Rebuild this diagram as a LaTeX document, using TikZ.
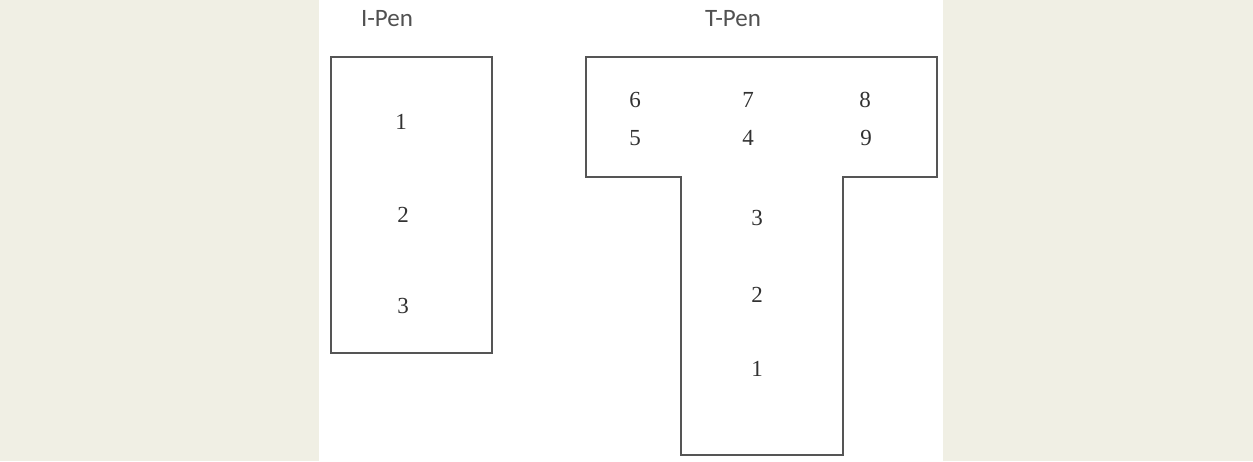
\documentclass[tikz,border=0pt]{standalone}
\usepackage{fontspec}
\setmainfont{Liberation Serif}
\newfontfamily\labelfont{Carlito}
\definecolor{panel}{RGB}{240,239,228}
\definecolor{edge}{RGB}{85,85,85}
\definecolor{ink}{RGB}{50,50,50}
\begin{document}
\begin{tikzpicture}[x=1pt,y=-1pt,
  outline/.style={draw=edge,line width=1.6pt,line join=miter},
  num/.style={inner sep=0pt,text=ink,font=\fontsize{23}{25}\selectfont},
  title/.style={inner sep=0pt,text=ink!85,font=\labelfont\fontsize{25}{28}\selectfont}]
\useasboundingbox (0,0) rectangle (1253,461);
\fill[white] (0,0) rectangle (1253,461);
\fill[panel] (0,0) rectangle (319,461);
\fill[panel] (943,0) rectangle (1253,461);

% I-Pen: a plain rectangle
\node[title] (ititle) at (387,19) {I-Pen};
\draw[outline] (331,57) rectangle (492,353);
\node[num] (i1) at (401,122) {1};
\node[num] (i2) at (403,215) {2};
\node[num] (i3) at (403,306) {3};

% T-Pen: cross bar on top of a stem
\node[title] (ttitle) at (733,19) {T-Pen};
\draw[outline] (586,57) -- (937,57) -- (937,177) -- (843,177) -- (843,455)
  -- (681,455) -- (681,177) -- (586,177) -- cycle;
\node[num] (t6) at (635,100) {6};
\node[num] (t7) at (748,100) {7};
\node[num] (t8) at (865,100) {8};
\node[num] (t5) at (635,138) {5};
\node[num] (t4) at (748,138) {4};
\node[num] (t9) at (866,138) {9};
\node[num] (t3) at (757,218) {3};
\node[num] (t2) at (757,295) {2};
\node[num] (t1) at (757,369) {1};
\end{tikzpicture}
\end{document}
